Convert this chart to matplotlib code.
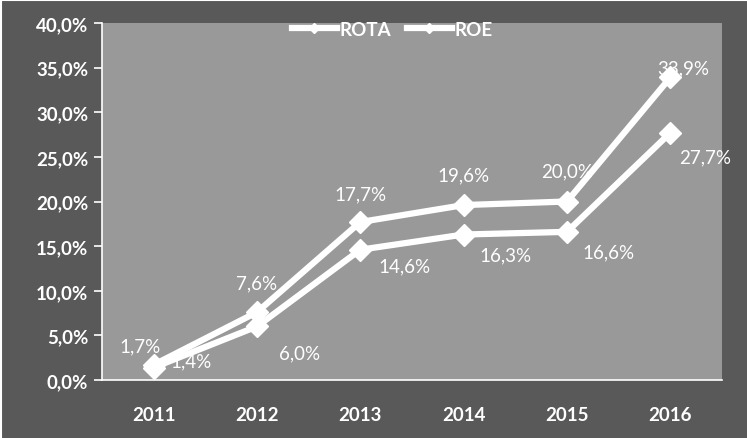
import matplotlib.pyplot as plt
from matplotlib.lines import Line2D

years = ['2011', '2012', '2013', '2014', '2015', '2016']
rota = [1.4, 6.0, 14.6, 16.3, 16.6, 27.7]
roe = [1.7, 7.6, 17.7, 19.6, 20.0, 33.9]
y_ticks = [0, 5, 10, 15, 20, 25, 30, 35, 40]

# label offsets in points (dx, dy)
roe_offsets = [(-10, 14), (0, 21), (0, 20), (0, 22), (0, 22), (9, 7)]
rota_offsets = [(27, 5), (31, -19), (32, -12), (30, -15), (30, -14.5),
                (25, -17)]

plt.rcParams['font.family'] = ['Lato', 'DejaVu Sans']

fig = plt.figure(figsize=(7.47, 4.39), dpi=100, facecolor='#595959')
ax = fig.add_axes([102 / 747, 1 - 381 / 439, 620 / 747, 357 / 439])
ax.set_facecolor('#999999')

x = list(range(len(years)))
for vals in (rota, roe):
    ax.plot(x, vals, color='white', lw=4.5, marker='D', markersize=11,
            solid_joinstyle='miter', zorder=3)

for vals, offs in ((roe, roe_offsets), (rota, rota_offsets)):
    for xi, v, (dx, dy) in zip(x, vals, offs):
        ax.annotate(f'{v:.1f}%'.replace('.', ','), (xi, v),
                    xytext=(dx, dy), textcoords='offset points',
                    ha='center', va='center', color='white', fontsize=13.5,
                    zorder=4)

ax.set_xlim(-0.5, 5.5)
ax.set_ylim(0, 40)
ax.set_xticks(x)
ax.set_xticklabels(years)
ax.set_yticks(y_ticks)
ax.set_yticklabels([f'{t:.1f}%'.replace('.', ',') for t in y_ticks])
ax.tick_params(axis='x', length=0, pad=19, colors='white', labelsize=13.5)
ax.tick_params(axis='y', length=6, width=1.2, direction='out', pad=4,
               colors='white', labelsize=13.5)
for lab in ax.get_xticklabels() + ax.get_yticklabels():
    lab.set_fontweight('bold')

for side in ('top', 'right'):
    ax.spines[side].set_visible(False)
for side in ('left', 'bottom'):
    ax.spines[side].set_color('white')
    ax.spines[side].set_linewidth(1.2)

handles = [Line2D([], [], color='white', lw=4.5, marker='D', markersize=5)
           for _ in range(2)]
leg = ax.legend(handles, ['ROTA', 'ROE'], loc='upper center',
                bbox_to_anchor=(0.468, 1.007), ncol=2, frameon=False,
                borderpad=0, borderaxespad=0,
                handlelength=2.4, handletextpad=0.15, columnspacing=0.85,
                prop={'weight': 'bold', 'size': 13.5})
for t in leg.get_texts():
    t.set_color('white')

# white frame on the left and top edges
fig.add_artist(Line2D([0.0015, 0.0015], [0, 1], color='white', lw=1.5,
                      transform=fig.transFigure))
fig.add_artist(Line2D([0, 1], [0.997, 0.997], color='white', lw=1.5,
                      transform=fig.transFigure))

fig.savefig('out.png', dpi=100, facecolor=fig.get_facecolor())
